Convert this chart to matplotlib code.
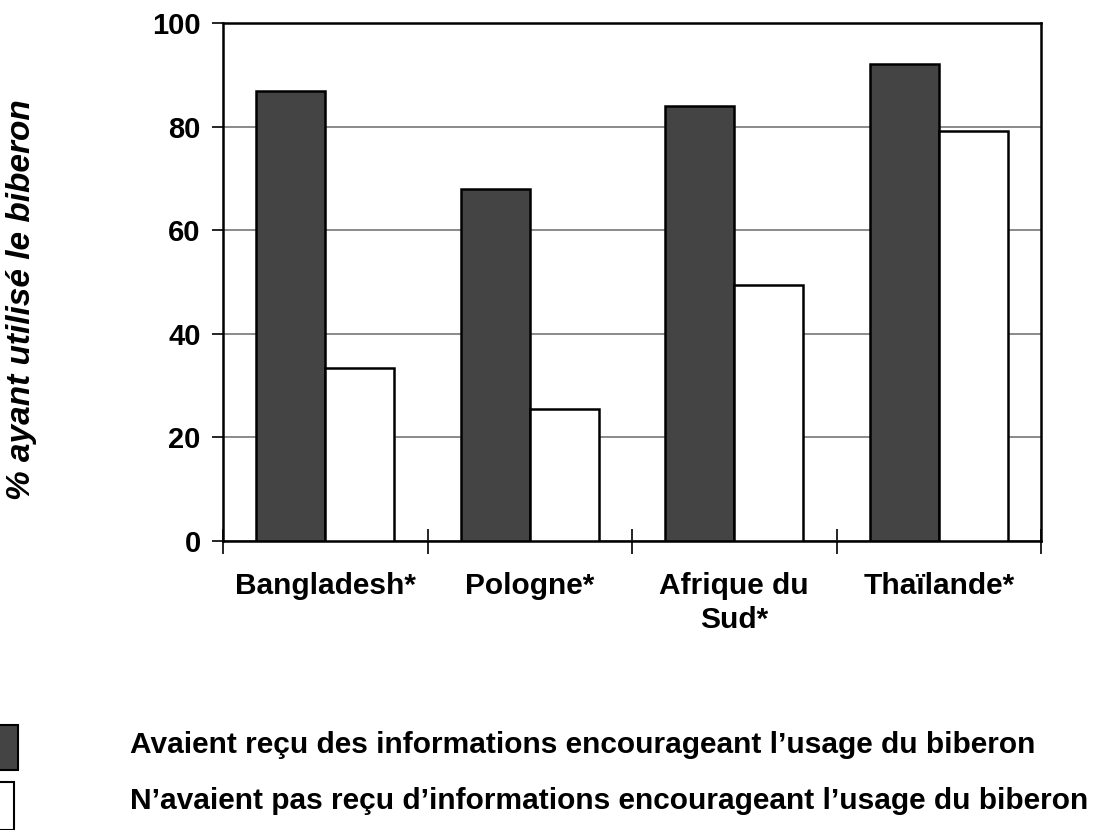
import numpy as np
import matplotlib.pyplot as plt
from matplotlib.patches import Rectangle

# chart data
categories = ["Bangladesh*", "Pologne*", "Afrique du\nSud*", "Thaïlande*"]
recu = [86.9, 68.0, 84.0, 92.0]        # dark bars
pas_recu = [33.4, 25.4, 49.4, 79.2]    # white bars
legend_labels = [
    "Avaient reçu des informations encourageant l\u2019usage du biberon",
    "N\u2019avaient pas reçu d\u2019informations encourageant l\u2019usage du biberon",
]
y_ticks = [0, 20, 40, 60, 80, 100]

plt.rcParams['font.family'] = ['Liberation Sans', 'DejaVu Sans']

fig = plt.figure(figsize=(11.05, 8.3), dpi=100)
# axes box: x 223..1041, y 23..541 in pixels
ax = fig.add_axes([223 / 1105, 1 - 541 / 830, (1041 - 223) / 1105, (541 - 23) / 830])

x = np.arange(len(categories))
w = 0.337
ax.bar(x - w / 2, recu, width=w, color='#444444', edgecolor='black', linewidth=1.8, zorder=3)
ax.bar(x + w / 2, pas_recu, width=w, color='white', edgecolor='black', linewidth=1.8, zorder=3)

ax.set_xlim(-0.5, len(categories) - 0.5)
ax.set_ylim(0, 100)
ax.set_yticks(y_ticks)
ax.set_yticklabels([str(v) for v in y_ticks], fontsize=21, fontweight='bold')
ax.yaxis.grid(True, color='#777777', linewidth=1.2, zorder=0)
ax.tick_params(axis='y', direction='out', length=8, width=1.2, pad=8)

ax.set_xticks(x)
ax.set_xticklabels(categories, fontsize=21.5, fontweight='bold', linespacing=1.3)
ax.tick_params(axis='x', which='major', length=0, pad=22)
ax.set_xticks(np.arange(len(categories) + 1) - 0.5, minor=True)
ax.tick_params(axis='x', which='minor', direction='inout', length=18, width=1.2)

for s in ax.spines.values():
    s.set_linewidth(1.8)
    s.set_color('black')

fig.text(22 / 1105, 1 - 300 / 830, "% ayant utilisé le biberon", rotation=90,
         fontsize=24, fontweight='bold', fontstyle='italic', ha='center', va='center')

# legend block at the bottom
fig.patches.append(Rectangle((-10 / 1105, 1 - 770 / 830), 28 / 1105, 45 / 830,
                             transform=fig.transFigure, facecolor='#444444',
                             edgecolor='black', linewidth=1.5))
fig.patches.append(Rectangle((-10 / 1105, 1 - 830 / 830), 24 / 1105, 48 / 830,
                             transform=fig.transFigure, facecolor='white',
                             edgecolor='black', linewidth=1.5))
fig.text(130 / 1105, 1 - 745 / 830, legend_labels[0], fontsize=21.5, fontweight='bold',
         ha='left', va='center')
fig.text(130 / 1105, 1 - 801 / 830, legend_labels[1], fontsize=21.5, fontweight='bold',
         ha='left', va='center')

fig.savefig("out.png", dpi=100)
